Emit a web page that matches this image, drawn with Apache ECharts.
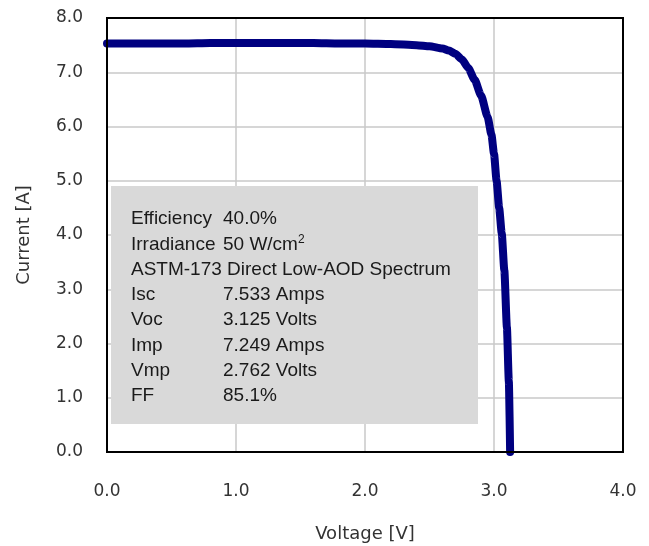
<!DOCTYPE html>
<html>
<head>
<meta charset="utf-8">
<script src="https://cdn.jsdelivr.net/npm/echarts@6/dist/echarts.min.js"></script>
<style>html,body{margin:0;padding:0;background:#fff}#c{width:649px;height:546px}</style>
</head>
<body>
<div id="c"></div>
<script>
const voltage = [0, 0.2, 0.4, 0.6, 0.8, 1.0, 1.2, 1.4, 1.6, 1.8, 2.0, 2.2, 2.4, 2.5, 2.6, 2.65, 2.7, 2.75, 2.8, 2.85, 2.9, 2.95, 2.98, 3.0, 3.02, 3.04, 3.06, 3.08, 3.1, 3.115, 3.125];
const current = [7.53, 7.53, 7.53, 7.53, 7.54, 7.54, 7.54, 7.54, 7.54, 7.53, 7.53, 7.52, 7.50, 7.48, 7.44, 7.40, 7.34, 7.24, 7.08, 6.86, 6.57, 6.18, 5.85, 5.50, 5.00, 4.50, 4.03, 3.35, 2.30, 1.30, 0];
const infoLabels = ['Efficiency', 'Irradiance', 'ASTM-173 Direct Low-AOD Spectrum', 'Isc', 'Voc', 'Imp', 'Vmp', 'FF'];
const infoValues = ['40.0%', '50 W/cm{sup|2}', '', '7.533 Amps', '3.125 Volts', '7.249 Amps', '2.762 Volts', '85.1%'];
const xName = 'Voltage [V]';
const yName = 'Current [A]';

const chart = echarts.init(document.getElementById('c'));
const font = 'Liberation Sans, Arial, sans-serif';
const tfont = 'DejaVu Sans, sans-serif';
const graphics = [{
  type: 'rect', z: 1, shape: {x: 111, y: 186, width: 367, height: 238},
  style: {fill: '#d9d9d9'}
}];
const lineY0 = 219, lineH = 25.3;
infoLabels.forEach((lab, i) => {
  graphics.push({type: 'text', z: 2, x: 131, y: lineY0 + i * lineH,
    style: {text: lab, font: '19px ' + font, fill: '#1a1a1a', verticalAlign: 'middle'}});
  if (infoValues[i]) {
    graphics.push({type: 'text', z: 2, x: 223, y: lineY0 + i * lineH,
      style: {text: infoValues[i], font: '19px ' + font, fill: '#1a1a1a', verticalAlign: 'middle',
        rich: {sup: {fontSize: 12, fontFamily: font, verticalAlign: 'bottom', padding: [0,0,10,0], fill: '#1a1a1a'}}}});
  }
});
graphics.push({type: 'rect', z: 10, shape: {x: 107, y: 18, width: 516, height: 434},
  style: {fill: 'none', stroke: '#000', lineWidth: 2}});

chart.setOption({
  animation: false,
  backgroundColor: '#fff',
  grid: {left: 107, right: 26, top: 18, bottom: 94, containLabel: false, outerBoundsMode: 'none'},
  xAxis: {
    type: 'value', min: 0, max: 4, interval: 1,
    name: xName, nameLocation: 'middle', nameGap: 73,
    nameTextStyle: {fontSize: 18, fontFamily: tfont, color: '#333'},
    axisLine: {show: false}, axisTick: {show: false},
    axisLabel: {margin: 31, fontSize: 17, fontFamily: tfont, color: '#333', formatter: v => v.toFixed(1)},
    splitLine: {show: true, showMinLine: false, showMaxLine: false, lineStyle: {color: '#c8c8c8', width: 1.5}}
  },
  yAxis: {
    type: 'value', min: 0, max: 8, interval: 1,
    name: yName, nameLocation: 'middle', nameGap: 74,
    nameTextStyle: {fontSize: 18, fontFamily: tfont, color: '#333'},
    axisLine: {show: false}, axisTick: {show: false},
    axisLabel: {margin: 24, fontSize: 17, fontFamily: tfont, color: '#333', padding: [14, 0, 0, 0], formatter: v => v.toFixed(1)},
    splitLine: {show: true, showMinLine: false, showMaxLine: false, lineStyle: {color: '#c8c8c8', width: 1.5}}
  },
  graphic: graphics,
  series: [{
    type: 'line', z: 5,
    data: voltage.map((v, i) => [v, current[i]]),
    showSymbol: false, smooth: 0.2, smoothMonotone: 'x',
    lineStyle: {color: '#000080', width: 8, cap: 'round', join: 'round'}
  }]
});
</script>
</body>
</html>
